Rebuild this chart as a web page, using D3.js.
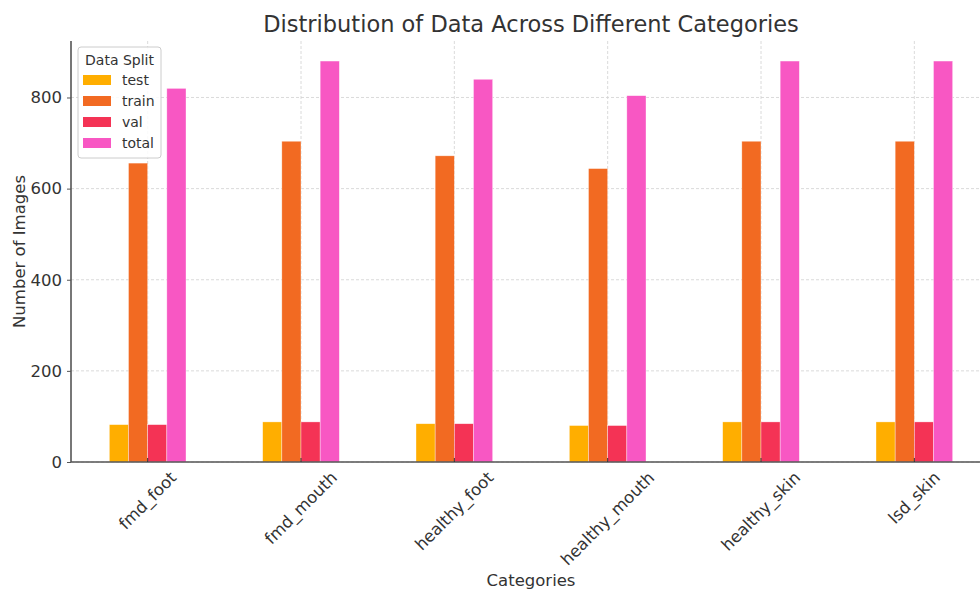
<!DOCTYPE html>
<html>
<head>
<meta charset="utf-8">
<script src="https://cdn.jsdelivr.net/npm/d3@7"></script>
<style>
  html, body { margin: 0; padding: 0; background: #fff; }
  svg { display: block; font-family: "DejaVu Sans", sans-serif; }
</style>
</head>
<body>
<svg id="chart" width="980" height="590"></svg>
<script>
// Image counts per category and data split
const categories = ["fmd_foot", "fmd_mouth", "healthy_foot", "healthy_mouth", "healthy_skin", "lsd_skin"];
const splits = ["test", "train", "val", "total"];
const testCounts  = [82, 88, 84, 80, 88, 88];
const trainCounts = [656, 704, 672, 644, 704, 704];
const valCounts   = [82, 88, 84, 80, 88, 88];
const totalCounts = [820, 880, 840, 804, 880, 880];
const yTicks = [0, 200, 400, 600, 800];
const splitColors = ["#FFAE00", "#F26A22", "#F43355", "#F857C3"];

const seriesValues = [testCounts, trainCounts, valCounts, totalCounts];

const svg = d3.select("#chart");
const margin = { left: 71, right: -11, top: 41, bottom: 128 };
const W = 980, H = 590;
const plotL = margin.left, plotR = W - margin.right;
const plotT = margin.top, plotB = H - margin.bottom;

// Category positions 0..n-1 with half a slot of padding on both sides
const x = d3.scaleLinear().domain([-0.5, categories.length - 0.5]).range([plotL, plotR]);
const yMax = d3.max(totalCounts) * 1.05;
const y = d3.scaleLinear().domain([0, yMax]).range([plotB, plotT]);

const barW = 0.5 / splits.length;
const textColor = "#333";
const tickFont = 16.5;

// Grid lines
const grid = svg.append("g");
grid.selectAll("line.h").data(yTicks).join("line")
  .attr("x1", plotL).attr("x2", plotR)
  .attr("y1", d => y(d)).attr("y2", d => y(d))
  .attr("stroke", "#d0d0d0").attr("stroke-width", 0.8).attr("stroke-dasharray", "3,2");
grid.selectAll("line.v").data(categories).join("line")
  .attr("x1", (d, i) => x(i)).attr("x2", (d, i) => x(i))
  .attr("y1", plotT).attr("y2", plotB)
  .attr("stroke", "#d0d0d0").attr("stroke-width", 0.8).attr("stroke-dasharray", "3,2");

// Bars
const barData = [];
seriesValues.forEach((vals, s) => {
  vals.forEach((v, i) => barData.push({ s, i, v }));
});
svg.append("g").selectAll("rect").data(barData).join("rect")
  .attr("x", d => x(d.i - 0.25 + d.s * barW))
  .attr("width", d => x(barW) - x(0))
  .attr("y", d => y(d.v))
  .attr("height", d => y(0) - y(d.v))
  .attr("fill", d => splitColors[d.s])
  .attr("stroke", "rgba(255,255,255,0.6)")
  .attr("stroke-width", 0.6);

// Y axis
const yAxis = svg.append("g").attr("transform", `translate(${plotL},0)`)
  .call(d3.axisLeft(y).tickValues(yTicks).tickSize(4).tickPadding(5).tickFormat(d3.format("d")));
yAxis.select(".domain").attr("stroke", "#555").attr("stroke-width", 1.6)
  .attr("d", `M0,${plotT}V${plotB}`);
yAxis.selectAll(".tick line").attr("stroke", "#555");
yAxis.selectAll(".tick text").attr("fill", textColor).attr("font-size", tickFont)
  .attr("font-family", "DejaVu Sans, sans-serif");

// X axis baseline and inward ticks
svg.append("line").attr("x1", plotL).attr("x2", plotR).attr("y1", plotB).attr("y2", plotB)
  .attr("stroke", "#555").attr("stroke-width", 1.6);
svg.append("g").selectAll("line").data(categories).join("line")
  .attr("x1", (d, i) => x(i)).attr("x2", (d, i) => x(i))
  .attr("y1", plotB).attr("y2", plotB - 4)
  .attr("stroke", "#333").attr("stroke-width", 1);

// Rotated category labels, centred under each tick
const xLabels = svg.append("g").selectAll("text").data(categories).join("text")
  .attr("font-size", tickFont).attr("fill", textColor)
  .attr("text-anchor", "middle").attr("dominant-baseline", "central")
  .text(d => d);
xLabels.each(function (d, i) {
  const L = this.getComputedTextLength();
  const h = tickFont;
  const half = Math.SQRT1_2 * (L + h) / 2;
  const cx = x(i), cy = plotB + 7 + half;
  d3.select(this).attr("transform", `translate(${cx},${cy}) rotate(-45)`);
});

// Title and axis labels
svg.append("text").attr("x", (plotL + plotR) / 2).attr("y", 32)
  .attr("text-anchor", "middle").attr("font-size", 22.5).attr("fill", textColor)
  .text("Distribution of Data Across Different Categories");
svg.append("text").attr("x", (plotL + plotR) / 2).attr("y", 586)
  .attr("text-anchor", "middle").attr("font-size", 16.5).attr("fill", textColor)
  .text("Categories");
svg.append("text").attr("transform", `translate(25,${(plotT + plotB) / 2}) rotate(-90)`)
  .attr("text-anchor", "middle").attr("font-size", 16.5).attr("fill", textColor)
  .text("Number of Images");

// Legend
const legend = svg.append("g").attr("transform", "translate(78,47)");
legend.append("rect").attr("width", 83).attr("height", 111).attr("rx", 3)
  .attr("fill", "rgba(255,255,255,0.85)").attr("stroke", "#ccc").attr("stroke-width", 1);
legend.append("text").attr("x", 41.5).attr("y", 18).attr("text-anchor", "middle")
  .attr("font-size", 14).attr("fill", textColor).text("Data Split");
const entries = legend.selectAll("g.entry").data(splits).join("g")
  .attr("transform", (d, i) => `translate(0,${33 + i * 21})`);
entries.append("rect").attr("x", 5).attr("y", -5).attr("width", 28).attr("height", 10)
  .attr("fill", (d, i) => splitColors[i]);
entries.append("text").attr("x", 44).attr("y", 0).attr("dominant-baseline", "central")
  .attr("font-size", 14).attr("fill", textColor).text(d => d);
</script>
</body>
</html>
